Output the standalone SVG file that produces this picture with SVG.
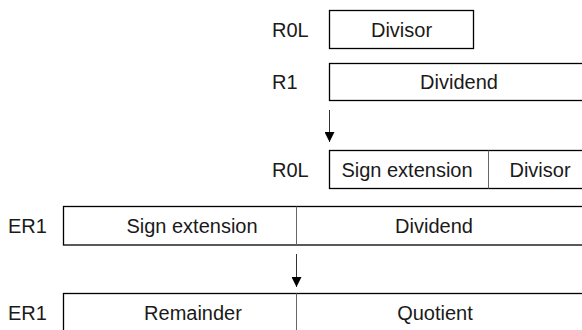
<svg xmlns="http://www.w3.org/2000/svg" width="582" height="330" viewBox="0 0 582 330">
<defs>
<style>
text{font-family:"Liberation Sans",Arial,sans-serif;font-size:20px;fill:#1a1a1a}
.c{text-anchor:middle}
.box{fill:#fff;stroke:#000;stroke-width:1.3}
.div{stroke:#666;stroke-width:1}
.conn{stroke:#333;stroke-width:1;fill:none}
</style>
<marker id="ah" viewBox="0 0 10 10" refX="10" refY="5" markerWidth="10" markerHeight="10" markerUnits="userSpaceOnUse" orient="auto">
<path d="M0,0L10,5L0,10z" fill="#000"/>
</marker>
</defs>
<g id="r0l-top">
<text x="272" y="37">R0L</text>
<rect class="box" x="329.5" y="10.5" width="144" height="38"/>
<text class="c" x="401.5" y="37">Divisor</text>
</g>
<g id="r1">
<text x="272" y="89">R1</text>
<rect class="box" x="329.5" y="63.5" width="270" height="37"/>
<text class="c" x="459" y="89">Dividend</text>
</g>
<g id="r0l-ext">
<text x="272" y="177">R0L</text>
<rect class="box" x="329.5" y="150.5" width="270" height="38"/>
<line class="div" x1="488.5" y1="150.5" x2="488.5" y2="188.5"/>
<text class="c" x="407" y="177">Sign extension</text>
<text class="c" x="540" y="177">Divisor</text>
</g>
<g id="er1-a">
<text x="8" y="233">ER1</text>
<rect class="box" x="63.5" y="206.5" width="540" height="38.5"/>
<line class="div" x1="296.5" y1="206.5" x2="296.5" y2="245"/>
<text class="c" x="192" y="233">Sign extension</text>
<text class="c" x="434" y="233">Dividend</text>
</g>
<g id="er1-b">
<text x="8" y="320">ER1</text>
<rect class="box" x="63.5" y="293.5" width="540" height="50"/>
<line class="div" x1="296.5" y1="293.5" x2="296.5" y2="340"/>
<text class="c" x="193" y="320">Remainder</text>
<text class="c" x="435" y="320">Quotient</text>
</g>
<g id="connectors">
<line class="conn" x1="329.5" y1="110" x2="329.5" y2="142" marker-end="url(#ah)"/>
<line class="conn" x1="296.5" y1="254" x2="296.5" y2="287" marker-end="url(#ah)"/>
</g>
</svg>
